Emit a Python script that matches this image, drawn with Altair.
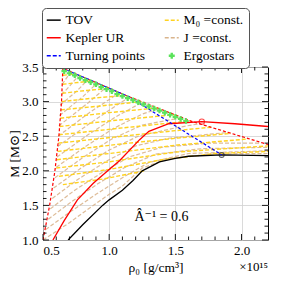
import altair as alt
import pandas as pd

# ---------------- data ----------------
tov_rho = [0.69, 0.80, 0.95, 1.00, 1.10, 1.18, 1.25, 1.38, 1.50, 1.60, 1.85, 2.20]
tov_M   = [1.00, 1.22, 1.50, 1.58, 1.72, 1.86, 2.00, 2.13, 2.18, 2.21, 2.23, 2.22]

kep_rho = [0.575, 0.66, 0.76, 0.88, 1.00, 1.08, 1.23, 1.30, 1.45, 1.70, 1.95, 2.20]
kep_M   = [1.00, 1.28, 1.58, 1.82, 2.02, 2.15, 2.45, 2.57, 2.68, 2.71, 2.68, 2.64]

edge_rho = [0.50, 0.55, 0.59, 0.62, 0.64, 0.65, 1.15, 1.63, 2.20]
edge_M   = [1.00, 1.50, 2.00, 2.50, 3.00, 3.48, 3.07, 2.71, 2.38]

turn_rho = [0.65, 1.15, 1.85]
turn_M   = [3.48, 3.07, 2.23]

ergo_rho = [0.66, 0.70, 0.74, 0.78, 0.82, 0.86, 0.90, 0.94, 0.98, 1.02, 1.06, 1.10,
            1.14, 1.18, 1.22, 1.26, 1.30, 1.34, 1.38, 1.42, 1.46, 1.50, 1.54, 1.58]
ergo_M   = [3.44, 3.41, 3.38, 3.34, 3.31, 3.28, 3.25, 3.21, 3.18, 3.15, 3.11, 3.08,
            3.05, 3.02, 2.99, 2.96, 2.93, 2.90, 2.87, 2.84, 2.81, 2.78, 2.75, 2.72]

kep_mark_rho, kep_mark_M = [1.70], [2.71]
tov_mark_rho, tov_mark_M = [1.85], [2.23]

# M0 = const. sequences: (rho, M) pairs
m0_lines = [
    [(0.650, 3.38), (0.748, 3.40)],
    [(0.648, 3.25), (0.76, 3.275), (0.873, 3.30)],
    [(0.645, 3.12), (0.82, 3.16), (1.00, 3.19)],
    [(0.640, 3.00), (0.88, 3.05), (1.11, 3.09)],
    [(0.635, 2.88), (0.95, 2.94), (1.245, 3.00)],
    [(0.630, 2.76), (1.00, 2.84), (1.367, 2.91)],
    [(0.625, 2.64), (1.05, 2.73), (1.49, 2.81)],
    [(0.620, 2.52), (1.10, 2.62), (1.617, 2.72)],
    [(0.615, 2.40), (1.10, 2.50), (1.50, 2.58), (1.77, 2.63)],
    [(0.610, 2.28), (1.10, 2.39), (1.50, 2.47), (1.92, 2.54)],
    [(0.605, 2.16), (1.00, 2.25), (1.50, 2.37), (2.05, 2.46)],
    [(0.600, 2.04), (1.00, 2.13), (1.50, 2.27), (2.20, 2.36)],
    [(0.620, 1.92), (1.00, 2.02), (1.40, 2.16), (1.80, 2.25), (2.20, 2.28)],
    [(0.650, 1.80), (0.95, 1.88), (1.27, 2.00)],
]

# J = const. sequences
j_lines = [
    [(0.50, 1.00), (0.70, 1.25), (0.85, 1.46), (1.00, 1.66), (1.10, 1.78), (1.25, 2.04), (1.45, 2.18), (1.80, 2.245), (2.20, 2.25)],
    [(0.52, 1.15), (0.70, 1.40), (0.90, 1.66), (1.10, 1.90), (1.30, 2.12), (1.60, 2.25), (2.20, 2.29)],
    [(0.54, 1.30), (0.72, 1.56), (0.92, 1.82), (1.12, 2.05), (1.35, 2.24), (1.70, 2.32), (2.20, 2.34)],
    [(0.555, 1.45), (0.74, 1.72), (0.95, 1.98), (1.15, 2.20), (1.40, 2.34), (1.75, 2.40), (2.15, 2.40)],
    [(0.57, 1.60), (0.76, 1.87), (0.98, 2.14), (1.20, 2.36), (1.45, 2.47), (1.90, 2.555)],
    [(0.58, 1.75), (0.78, 2.03), (1.00, 2.30), (1.22, 2.50), (1.50, 2.62), (1.68, 2.68)],
    [(0.59, 1.90), (0.80, 2.19), (1.02, 2.46), (1.25, 2.66), (1.55, 2.77)],
    [(0.60, 2.05), (0.82, 2.35), (1.04, 2.62), (1.25, 2.82), (1.38, 2.90)],
    [(0.605, 2.20), (0.84, 2.52), (1.05, 2.78), (1.25, 2.99)],
    [(0.61, 2.35), (0.85, 2.68), (1.05, 2.94), (1.15, 3.06)],
    [(0.615, 2.50), (0.85, 2.84), (1.08, 3.13)],
    [(0.62, 2.65), (0.84, 2.98), (0.98, 3.21)],
    [(0.625, 2.80), (0.80, 3.07), (0.91, 3.27)],
    [(0.63, 2.95), (0.76, 3.16), (0.84, 3.32)],
    [(0.64, 3.10), (0.70, 3.22), (0.77, 3.38)],
    [(0.645, 3.25), (0.71, 3.43)],
]

x_major = [0.5, 1.0, 1.5, 2.0]
y_major = [1.0, 1.5, 2.0, 2.5, 3.0, 3.5]
x_minor = [0.6, 0.7, 0.8, 0.9, 1.1, 1.2, 1.3, 1.4, 1.6, 1.7, 1.8, 1.9, 2.1]
y_minor = [1.1, 1.2, 1.3, 1.4, 1.6, 1.7, 1.8, 1.9, 2.1, 2.2, 2.3, 2.4,
           2.6, 2.7, 2.8, 2.9, 3.1, 3.2, 3.3, 3.4]

# legend order (column-major fill): left column then right column
series_domain = ["TOV", "Kepler UR", "Turning points", "M₀ =const.", "J =const.", "Ergostars"]
series_range = ["black", "red", "blue", "#FFD21F", "#D9B48C", "#5BE35B"]

ann_text = "Â⁻¹ = 0.6"
ann_rho, ann_M = [1.395], [1.33]

# ---------------- build tables ----------------
def seq_table(lines, name):
    rows = []
    for i, ln in enumerate(lines):
        for k, (r, m) in enumerate(ln):
            rows.append({"rho": r, "M": m, "line": f"{name}{i}", "ord": k, "series": name})
    return pd.DataFrame(rows)

def curve_table(rho, M, name):
    return pd.DataFrame({"rho": rho, "M": M, "ord": list(range(len(rho))), "series": name})

df_m0 = seq_table(m0_lines, "M₀ =const.")
df_j = seq_table(j_lines, "J =const.")
df_tov = curve_table(tov_rho, tov_M, "TOV")
df_kep = curve_table(kep_rho, kep_M, "Kepler UR")
df_edge = curve_table(edge_rho, edge_M, "edge")
df_turn = curve_table(turn_rho, turn_M, "Turning points")
df_ergo = pd.DataFrame({"rho": ergo_rho, "M": ergo_M, "series": "Ergostars"})

W, H = 225, 173
FONT = "Liberation Serif, DejaVu Serif, serif"

xs = alt.Scale(domain=[0.5, 2.2], nice=False, zero=False)
ys = alt.Scale(domain=[1.0, 3.5], nice=False, zero=False)

X = alt.X("rho:Q", scale=xs,
          axis=alt.Axis(values=x_major, format=".1f", title="ρ₀  [g/cm³]",
                        labelPadding=4, titlePadding=3))
Y = alt.Y("M:Q", scale=ys,
          axis=alt.Axis(values=y_major, format=".1f", title="M  [M⊙]",
                        labelPadding=5, titlePadding=0))

legend = alt.Legend(
    title=None, orient="none", legendX=-1, legendY=-59, columns=2,
    symbolType="stroke", symbolSize=196, symbolStrokeWidth=1.5,
    labelFont=FONT, labelFontSize=13.5, labelColor="black", labelOffset=5,
    strokeColor="#555555", cornerRadius=4, fillColor="white",
    padding=5, rowPadding=3, columnPadding=16,
)
LEGEND_ENCODE = {"symbols": {"update": {
    "strokeDash": {"signal": "(datum.index==2||datum.index==3||datum.index==4) ? [4,2] : []"},
    "shape": {"signal": "datum.index==5 ? 'cross' : 'stroke'"},
    "size": {"signal": "datum.index==5 ? 36 : 196"},
    "fill": {"signal": "datum.index==5 ? '#5BE35B' : 'transparent'"},
    "strokeWidth": {"signal": "datum.index==5 ? 0 : 1.5"},
}}}

C = alt.Color("series:N", scale=alt.Scale(domain=series_domain, range=series_range), legend=legend)

j_layer = alt.Chart(df_j).mark_line(strokeDash=[4, 2], strokeWidth=1.2, clip=True, opacity=0.9).encode(
    x=X, y=Y, color=C, detail="line:N", order="ord:Q")
m0_layer = alt.Chart(df_m0).mark_line(strokeDash=[4, 2], strokeWidth=1.4, clip=True).encode(
    x=X, y=Y, color=C, detail="line:N", order="ord:Q")
tov_layer = alt.Chart(df_tov).mark_line(strokeWidth=1.3, clip=True).encode(
    x=X, y=Y, color=C, order="ord:Q")
kep_layer = alt.Chart(df_kep).mark_line(strokeWidth=1.3, clip=True).encode(
    x=X, y=Y, color=C, order="ord:Q")
edge_layer = alt.Chart(df_edge).mark_line(strokeWidth=1.2, strokeDash=[3, 2], clip=True).encode(
    x=X, y=Y, color=alt.value("red"), order="ord:Q")
turn_layer = alt.Chart(df_turn).mark_line(strokeWidth=1.2, strokeDash=[3, 2], clip=True).encode(
    x=X, y=Y, color=C, order="ord:Q")
ergo_layer = alt.Chart(df_ergo).mark_point(shape="cross", filled=True, size=30, opacity=1).encode(
    x=X, y=Y, color=C)
kmark = alt.Chart(pd.DataFrame({"rho": kep_mark_rho, "M": kep_mark_M})).mark_point(
    shape="circle", size=28, filled=False, color="red", strokeWidth=1.1).encode(x=X, y=Y)
tmark = alt.Chart(pd.DataFrame({"rho": tov_mark_rho, "M": tov_mark_M})).mark_point(
    shape="circle", size=24, filled=False, color="#222222", strokeWidth=1.1).encode(x=X, y=Y)

ann = alt.Chart(pd.DataFrame({"rho": ann_rho, "M": ann_M, "t": [ann_text]})).mark_text(
    font=FONT, fontSize=14, color="black").encode(x=X, y=Y, text="t:N")

exp_txt = alt.Chart(pd.DataFrame({"t": ["×10¹⁵"]})).mark_text(
    font=FONT, fontSize=13, align="right", baseline="alphabetic", color="black").encode(
    x=alt.value(W), y=alt.value(H + 31), text="t:N")

# inward ticks on all four sides
dfx_maj = pd.DataFrame({"rho": x_major})
dfx_min = pd.DataFrame({"rho": x_minor})
dfy_maj = pd.DataFrame({"M": y_major})
dfy_min = pd.DataFrame({"M": y_minor})
LM, Lm = 6, 3.5

def xticks(df, L):
    b = alt.Chart(df).mark_rule(color="black", strokeWidth=0.9).encode(
        x=X, y=alt.value(H), y2=alt.value(H - L))
    t = alt.Chart(df).mark_rule(color="black", strokeWidth=0.9).encode(
        x=X, y=alt.value(0), y2=alt.value(L))
    return b + t

def yticks(df, L):
    l = alt.Chart(df).mark_rule(color="black", strokeWidth=0.9).encode(
        y=Y, x=alt.value(0), x2=alt.value(L))
    r = alt.Chart(df).mark_rule(color="black", strokeWidth=0.9).encode(
        y=Y, x=alt.value(W), x2=alt.value(W - L))
    return l + r


chart = alt.layer(
    j_layer, m0_layer, tov_layer, kep_layer, edge_layer, turn_layer, ergo_layer,
    kmark, tmark, ann, exp_txt,
    xticks(dfx_maj, LM), xticks(dfx_min, Lm), yticks(dfy_maj, LM), yticks(dfy_min, Lm),
).properties(
    width=W, height=H,
    autosize=alt.AutoSizeParams(type="none"),
    padding={"left": 35, "top": 59, "right": 7, "bottom": 35},
).configure_view(
    stroke="black", strokeWidth=1
).configure_axis(
    labelFont=FONT, labelFontSize=13, labelColor="black",
    titleFont=FONT, titleFontSize=13.5, titleColor="black", titleFontWeight="normal",
    ticks=False, domain=False, grid=True, gridColor="#d0d0d0", gridWidth=0.8,
)


# add per-entry symbol styling to the legend after validation
_orig_to_dict = chart.to_dict


def _walk(o):
    if isinstance(o, dict):
        for k, v in o.items():
            if k == "legend" and isinstance(v, dict) and v.get("columns") == 2:
                v["encode"] = LEGEND_ENCODE
            else:
                _walk(v)
    elif isinstance(o, list):
        for v in o:
            _walk(v)


def _patched_to_dict(*args, **kwargs):
    d = _orig_to_dict(*args, **kwargs)
    _walk(d)
    return d


object.__setattr__(chart, "to_dict", _patched_to_dict)

chart.save("out.html", embed_options={"renderer": "svg", "actions": False})
